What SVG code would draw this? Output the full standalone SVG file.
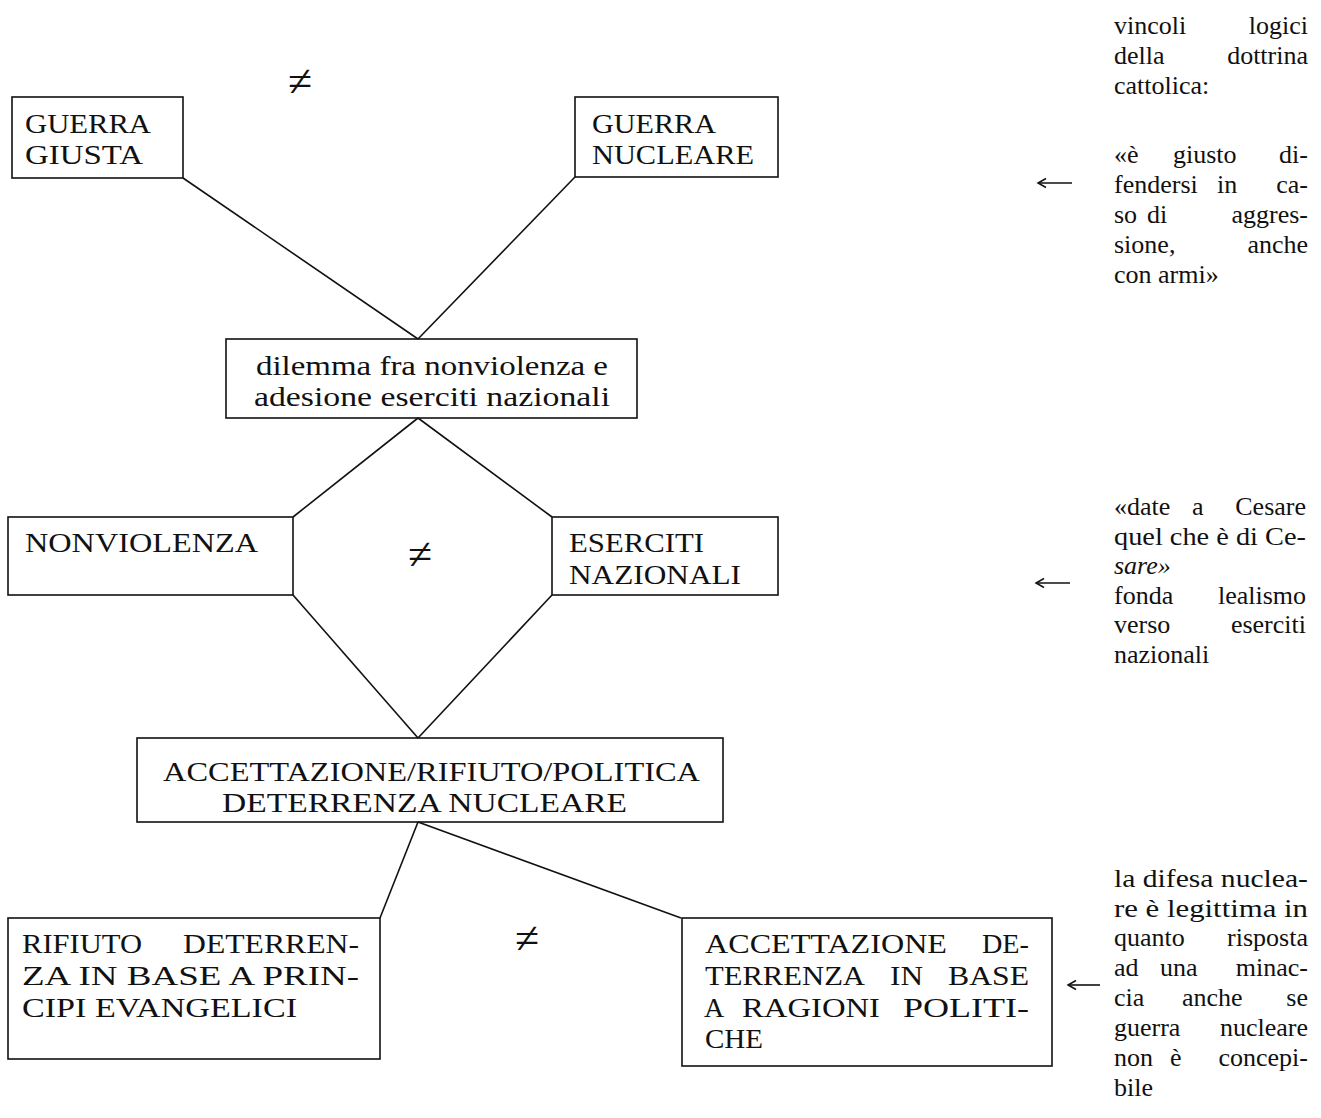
<svg xmlns="http://www.w3.org/2000/svg" width="1321" height="1118" viewBox="0 0 1321 1118">
<style>
.box{fill:none;stroke:#111;stroke-width:1.6}
.ln{fill:none;stroke:#111;stroke-width:1.6}
.cap{font-family:"Liberation Serif",serif;font-size:28px;fill:#111}
.low{font-family:"Liberation Serif",serif;font-size:28px;fill:#111}
.side{font-family:"Liberation Serif",serif;font-size:26px;fill:#111}
.neq{font-family:"Liberation Serif",serif;font-size:44px;fill:#111;text-anchor:middle}
.end{text-anchor:end}
.mid{text-anchor:middle}
</style>
<defs>
<marker id="ah" markerWidth="12" markerHeight="12" refX="10" refY="6" orient="auto" markerUnits="userSpaceOnUse">
<path d="M2,1.5 L10,6 L2,10.5" fill="none" stroke="#111" stroke-width="1.5"/>
</marker>
</defs>
<rect width="1321" height="1118" fill="#fff"/>

<g id="connectors">
<line class="ln" x1="183" y1="178" x2="418" y2="339"/>
<line class="ln" x1="575" y1="177" x2="418" y2="339"/>
<line class="ln" x1="418" y1="418" x2="293" y2="517"/>
<line class="ln" x1="418" y1="418" x2="552" y2="517"/>
<line class="ln" x1="293" y1="595" x2="418" y2="738"/>
<line class="ln" x1="552" y1="595" x2="418" y2="738"/>
<line class="ln" x1="418" y1="822" x2="380" y2="918"/>
<line class="ln" x1="418" y1="822" x2="681" y2="918"/>
<line class="ln" x1="1072" y1="183" x2="1038" y2="183" marker-end="url(#ah)"/>
<line class="ln" x1="1070" y1="583" x2="1036" y2="583" marker-end="url(#ah)"/>
<line class="ln" x1="1100" y1="985" x2="1068" y2="985" marker-end="url(#ah)"/>
</g>

<g id="guerra-giusta">
<rect class="box" x="12" y="97" width="171" height="81"/>
<text class="cap" x="25" y="133" textLength="126" lengthAdjust="spacingAndGlyphs">GUERRA</text>
<text class="cap" x="25" y="164" textLength="118" lengthAdjust="spacingAndGlyphs">GIUSTA</text>
</g>

<g id="guerra-nucleare">
<rect class="box" x="575" y="97" width="203" height="80"/>
<text class="cap" x="592" y="133" textLength="124" lengthAdjust="spacingAndGlyphs">GUERRA</text>
<text class="cap" x="592" y="164" textLength="162" lengthAdjust="spacingAndGlyphs">NUCLEARE</text>
</g>

<text class="neq" x="300" y="96">≠</text>

<g id="dilemma">
<rect class="box" x="226" y="339" width="411" height="79"/>
<text class="low mid" x="432" y="375" textLength="352" lengthAdjust="spacingAndGlyphs">dilemma fra nonviolenza e</text>
<text class="low mid" x="432" y="406" textLength="356" lengthAdjust="spacingAndGlyphs">adesione eserciti nazionali</text>
</g>

<g id="nonviolenza">
<rect class="box" x="8" y="517" width="285" height="78"/>
<text class="cap" x="25" y="552" textLength="233" lengthAdjust="spacingAndGlyphs">NONVIOLENZA</text>
</g>

<text class="neq" x="420" y="569">≠</text>

<g id="eserciti-nazionali">
<rect class="box" x="552" y="517" width="226" height="78"/>
<text class="cap" x="569" y="552" textLength="135" lengthAdjust="spacingAndGlyphs">ESERCITI</text>
<text class="cap" x="569" y="584" textLength="172" lengthAdjust="spacingAndGlyphs">NAZIONALI</text>
</g>

<g id="accettazione-rifiuto">
<rect class="box" x="137" y="738" width="586" height="84"/>
<text class="cap" x="163" y="781" textLength="537" lengthAdjust="spacingAndGlyphs">ACCETTAZIONE/RIFIUTO/POLITICA</text>
<text class="cap" x="222" y="812" textLength="405" lengthAdjust="spacingAndGlyphs">DETERRENZA NUCLEARE</text>
</g>

<g id="rifiuto-deterrenza">
<rect class="box" x="8" y="918" width="372" height="141"/>
<text class="cap" x="22" y="953" textLength="120" lengthAdjust="spacingAndGlyphs">RIFIUTO</text>
<text class="cap" x="183" y="953" textLength="176" lengthAdjust="spacingAndGlyphs">DETERREN-</text>
<text class="cap" x="22" y="985" textLength="337" lengthAdjust="spacingAndGlyphs">ZA IN BASE A PRIN-</text>
<text class="cap" x="22" y="1017" textLength="275" lengthAdjust="spacingAndGlyphs">CIPI EVANGELICI</text>
</g>

<text class="neq" x="527" y="953">≠</text>

<g id="accettazione-deterrenza">
<rect class="box" x="682" y="918" width="370" height="148"/>
<text class="cap" x="705" y="953" textLength="242" lengthAdjust="spacingAndGlyphs">ACCETTAZIONE</text>
<text class="cap" x="982" y="953" textLength="47" lengthAdjust="spacingAndGlyphs">DE-</text>
<text class="cap" x="705" y="985" textLength="160" lengthAdjust="spacingAndGlyphs">TERRENZA</text>
<text class="cap" x="890" y="985" textLength="33" lengthAdjust="spacingAndGlyphs">IN</text>
<text class="cap" x="948" y="985" textLength="81" lengthAdjust="spacingAndGlyphs">BASE</text>
<text class="cap" x="704" y="1017">A</text>
<text class="cap" x="742" y="1017" textLength="138" lengthAdjust="spacingAndGlyphs">RAGIONI</text>
<text class="cap" x="903" y="1017" textLength="126" lengthAdjust="spacingAndGlyphs">POLITI-</text>
<text class="cap" x="705" y="1048" textLength="58" lengthAdjust="spacingAndGlyphs">CHE</text>
</g>

<g id="note-dottrina">
<text class="side" x="1114" y="34">vincoli</text>
<text class="side end" x="1308" y="34">logici</text>
<text class="side" x="1114" y="64">della</text>
<text class="side end" x="1308" y="64">dottrina</text>
<text class="side" x="1114" y="94">cattolica:</text>
<text class="side" x="1114" y="163">«è</text>
<text class="side" x="1173" y="163">giusto</text>
<text class="side end" x="1308" y="163">di-</text>
<text class="side" x="1114" y="193">fendersi</text>
<text class="side" x="1217" y="193">in</text>
<text class="side end" x="1308" y="193">ca-</text>
<text class="side" x="1114" y="223">so</text>
<text class="side" x="1147" y="223">di</text>
<text class="side end" x="1308" y="223">aggres-</text>
<text class="side" x="1114" y="253">sione,</text>
<text class="side end" x="1308" y="253">anche</text>
<text class="side" x="1114" y="283">con armi»</text>
</g>

<g id="note-cesare">
<text class="side" x="1114" y="515">«date</text>
<text class="side" x="1192" y="515">a</text>
<text class="side end" x="1306" y="515">Cesare</text>
<text class="side" x="1114" y="545" textLength="192" lengthAdjust="spacingAndGlyphs">quel che è di Ce-</text>
<text class="side" x="1114" y="574" font-style="italic">sare»</text>
<text class="side" x="1114" y="604">fonda</text>
<text class="side end" x="1306" y="604">lealismo</text>
<text class="side" x="1114" y="633">verso</text>
<text class="side end" x="1306" y="633">eserciti</text>
<text class="side" x="1114" y="663">nazionali</text>
</g>

<g id="note-difesa">
<text class="side" x="1114" y="887" textLength="194" lengthAdjust="spacingAndGlyphs">la difesa nuclea-</text>
<text class="side" x="1114" y="917" textLength="194" lengthAdjust="spacingAndGlyphs">re è legittima in</text>
<text class="side" x="1114" y="946">quanto</text>
<text class="side end" x="1308" y="946">risposta</text>
<text class="side" x="1114" y="976">ad</text>
<text class="side" x="1160" y="976">una</text>
<text class="side end" x="1308" y="976">minac-</text>
<text class="side" x="1114" y="1006">cia</text>
<text class="side" x="1182" y="1006">anche</text>
<text class="side end" x="1308" y="1006">se</text>
<text class="side" x="1114" y="1036">guerra</text>
<text class="side end" x="1308" y="1036">nucleare</text>
<text class="side" x="1114" y="1066">non</text>
<text class="side" x="1170" y="1066">è</text>
<text class="side end" x="1308" y="1066">concepi-</text>
<text class="side" x="1114" y="1096">bile</text>
</g>
</svg>
